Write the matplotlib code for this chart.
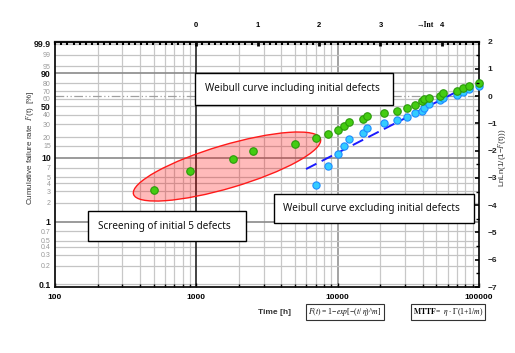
import numpy as np
import matplotlib
matplotlib.use("Agg")
import matplotlib.pyplot as plt
from matplotlib.patches import Ellipse, Rectangle
from matplotlib.transforms import ScaledTranslation

plt.rcParams["mathtext.fontset"] = "stix"

# ---------------- data ----------------
times = [502, 902, 1809, 2507, 4995, 7035, 8553, 10017, 11045, 12040, 15125,
         16070, 21130, 26200, 31140, 35300, 39370, 40550, 44130, 53050, 55430,
         69410, 77540, 85540, 99500]
lnln_incl = [-3.44, -2.73, -2.32, -2.00, -1.75, -1.55, -1.37, -1.23, -1.08,
             -0.95, -0.83, -0.73, -0.63, -0.53, -0.42, -0.32, -0.19, -0.12,
             -0.05, -0.01, 0.12, 0.20, 0.30, 0.38, 0.48]
n_initial = 5
lnln_excl = [-3.26, -2.55, -2.12, -1.81, -1.57, -1.36, -1.17, -1.00, -0.87,
             -0.75, -0.63, -0.53, -0.42, -0.29, -0.14, -0.07, 0.04, 0.14,
             0.28, 0.37]
fit_m = 1.156
fit_eta = 60300
fit_t_range = [5975, 100000]

F_ticks = [99.9, 99, 95, 90, 80, 70, 60, 50, 40, 30, 20, 15, 10, 7, 5, 4, 3, 2,
           1, 0.7, 0.5, 0.4, 0.3, 0.2, 0.1]
F_bold = [99.9, 90, 50, 10, 1, 0.1]
F_dark = [90, 10, 1]
right_ticks = [2, 1, 0, -1, -2, -3, -4, -5, -6, -7]
top_ticks = [0, 1, 2, 3, 4]
x_ticks = [100, 1000, 10000, 100000]
XMIN, XMAX = 100, 100000
T_REF = 1000

def lnln(F_pct):
    return np.log(-np.log(1 - np.asarray(F_pct, dtype=float) / 100.0))

# ---------------- figure ----------------
W, H = 515, 353
fig = plt.figure(figsize=(W / 100, H / 100), dpi=100)
ax = fig.add_axes([55 / W, 1 - 287 / H, 424 / W, 245.3 / H])
ax.set_xscale("log")
ax.set_xlim(XMIN, XMAX)
ax.set_ylim(-7, 2)

# vertical grid
for dec in [100, 1000, 10000]:
    for k in range(2, 10):
        ax.axvline(dec * k, color="#c8c8c8", lw=0.9, zorder=1)
ax.axvline(10000, color="#8a8a8a", lw=1.1, zorder=1)
ax.axvline(1000, color="#222222", lw=1.2, zorder=1.5)

# horizontal grid at probability ticks
for F in F_ticks:
    if F in F_dark:
        ax.axhline(lnln(F), color="#8a8a8a", lw=1.2, zorder=1)
    else:
        ax.axhline(lnln(F), color="#c4c4c4", lw=0.9, zorder=1)
ax.axhline(0, color="#a0a0a0", lw=0.9, ls=(0, (7, 2, 1, 2, 1, 2)), zorder=1.2)

# left ticks / labels
ax.set_yticks(lnln(F_ticks))
ax.set_yticklabels([("%g" % F) for F in F_ticks])
for lab, F in zip(ax.get_yticklabels(), F_ticks):
    if F in F_bold:
        lab.set_fontweight("bold")
        lab.set_fontsize(6.3)
        lab.set_color("#111111")
    else:
        lab.set_fontsize(5)
        lab.set_color("#999999")
    lab.set_family("Liberation Sans")
ax.tick_params(axis="y", which="major", length=0, pad=3)

# bottom ticks
ax.set_xticks(x_ticks)
ax.set_xticklabels([str(v) for v in x_ticks], fontsize=6, fontweight="bold",
                   family="Liberation Sans")
ax.tick_params(axis="x", which="major", direction="in", length=3, width=1, pad=5)
ax.tick_params(axis="x", which="minor", direction="in", length=2.5, width=1)
ax.xaxis.set_minor_formatter(plt.NullFormatter())

for s in ax.spines.values():
    s.set_linewidth(1.3)
    s.set_color("#111111")
ax.spines["top"].set_linewidth(1.6)

# right axis (LnLn)
axr = ax.twinx()
axr.set_ylim(-7, 2)
axr.set_yticks(right_ticks)
axr.set_yticklabels([("%d" % v).replace("-", "\u2212") for v in right_ticks],
                    fontsize=6, fontweight="bold", family="Liberation Sans",
                    color="#222222")
axr.set_yticks(np.arange(-6.5, 2, 1.0), minor=True)
axr.tick_params(axis="y", which="major", direction="in", length=3, width=1.2, pad=6)
axr.tick_params(axis="y", which="minor", direction="in", length=2, width=1)
for s in axr.spines.values():
    s.set_visible(False)

# top axis ln(t/1000), linear in ln t
axt = ax.twiny()
axt.set_xlim(np.log(XMIN / T_REF), np.log(XMAX / T_REF))
axt.set_xticks(top_ticks)
axt.set_xticklabels([str(v) for v in top_ticks], fontsize=5.5, fontweight="bold",
                    family="Liberation Sans")
axt.set_xticks(np.arange(-2.3, 4.65, 0.1), minor=True)
axt.tick_params(axis="x", which="major", direction="in", length=3, width=2, pad=9)
axt.tick_params(axis="x", which="minor", direction="in", length=2, width=1.5)
axt.tick_params(axis="y", which="both", length=0, labelright=False, labelleft=False)
for s in axt.spines.values():
    s.set_visible(False)
fig.text(416 / W, 1 - 25 / H, "\u2192Int", fontsize=5.5, fontweight="bold",
         family="Liberation Serif", va="center", ha="left")

# screening ellipse
ell = Ellipse((0, 0), 1.95, 0.43, angle=16.5,
              transform=fig.dpi_scale_trans + ScaledTranslation(1648, -2.58, ax.transData),
              facecolor=(1, 0, 0, 0.27), edgecolor="#ff1a1a", lw=1.0, zorder=2)
ax.add_patch(ell)

# fitted line (excluding initial defects)
t_line = np.array(fit_t_range, dtype=float)
ax.plot(t_line, fit_m * (np.log(t_line) - np.log(fit_eta)), color="#1a1aff",
        lw=1.4, ls=(0, (6, 3)), zorder=3, clip_on=False)

# points
ax.plot(times[n_initial:], lnln_excl, "o", ms=5.2, mfc="#33ccff", mec="#1f8cff",
        mew=0.8, zorder=4, clip_on=False)
ax.plot(times, lnln_incl, "o", ms=5.4, mfc="#44cc11", mec="#2a9a0a",
        mew=0.8, zorder=5, clip_on=False)

# labels
fig.text(30 / W, 1 - 148 / H, "Cumulative failure rate  $F$(t)  [%]",
         rotation=90, fontsize=5.8, ha="center", va="center", color="#333333",
         family="Liberation Sans")
fig.text(502 / W, 1 - 158 / H, "LnLn(1/(1\u2212$F$(t)))", rotation=90,
         fontsize=5.8, ha="center", va="center", color="#333333",
         family="Liberation Sans")

# annotation boxes
def box(x0, y0, x1, y1, label, tx):
    fig.patches.append(Rectangle((x0 / W, 1 - y1 / H), (x1 - x0) / W, (y1 - y0) / H,
                                 transform=fig.transFigure, facecolor="white",
                                 edgecolor="black", lw=1.0, zorder=10))
    fig.text(tx / W, 1 - (y0 + y1) / 2 / H, label, fontsize=7.2, ha="left",
             va="center", family="Noto Sans", color="#111111", zorder=11)

box(195, 73, 393, 105, "Weibull curve including initial defects", 205)
box(88, 211, 246, 241, "Screening of initial 5 defects", 98)
box(274, 194, 474, 223, "Weibull curve excluding initial defects", 283)

# bottom texts
fig.text(274 / W, 1 - 312 / H, "Time [h]", fontsize=6, fontweight="bold",
         family="Liberation Sans", ha="center", va="center", color="#333333")
fig.text(345 / W, 1 - 312 / H,
         "$\\mathit{F(t)}$ = 1\u2212$\\mathit{exp}$[\u2212($\\mathit{t}$/ $\\eta$)^$\\mathit{m}$]",
         fontsize=5.5, family="Liberation Serif", ha="center", va="center",
         bbox=dict(boxstyle="square,pad=0.25", fc="white", ec="#333333", lw=0.8))
fig.text(448 / W, 1 - 312 / H,
         "$\\mathbf{MTTF}$=  $\\eta$ $\\cdot$ $\\Gamma$(1+1/$\\mathit{m}$)",
         fontsize=5.5, family="Liberation Serif", ha="center", va="center",
         bbox=dict(boxstyle="square,pad=0.25", fc="white", ec="#333333", lw=0.8))

fig.savefig("out.png", dpi=100)
